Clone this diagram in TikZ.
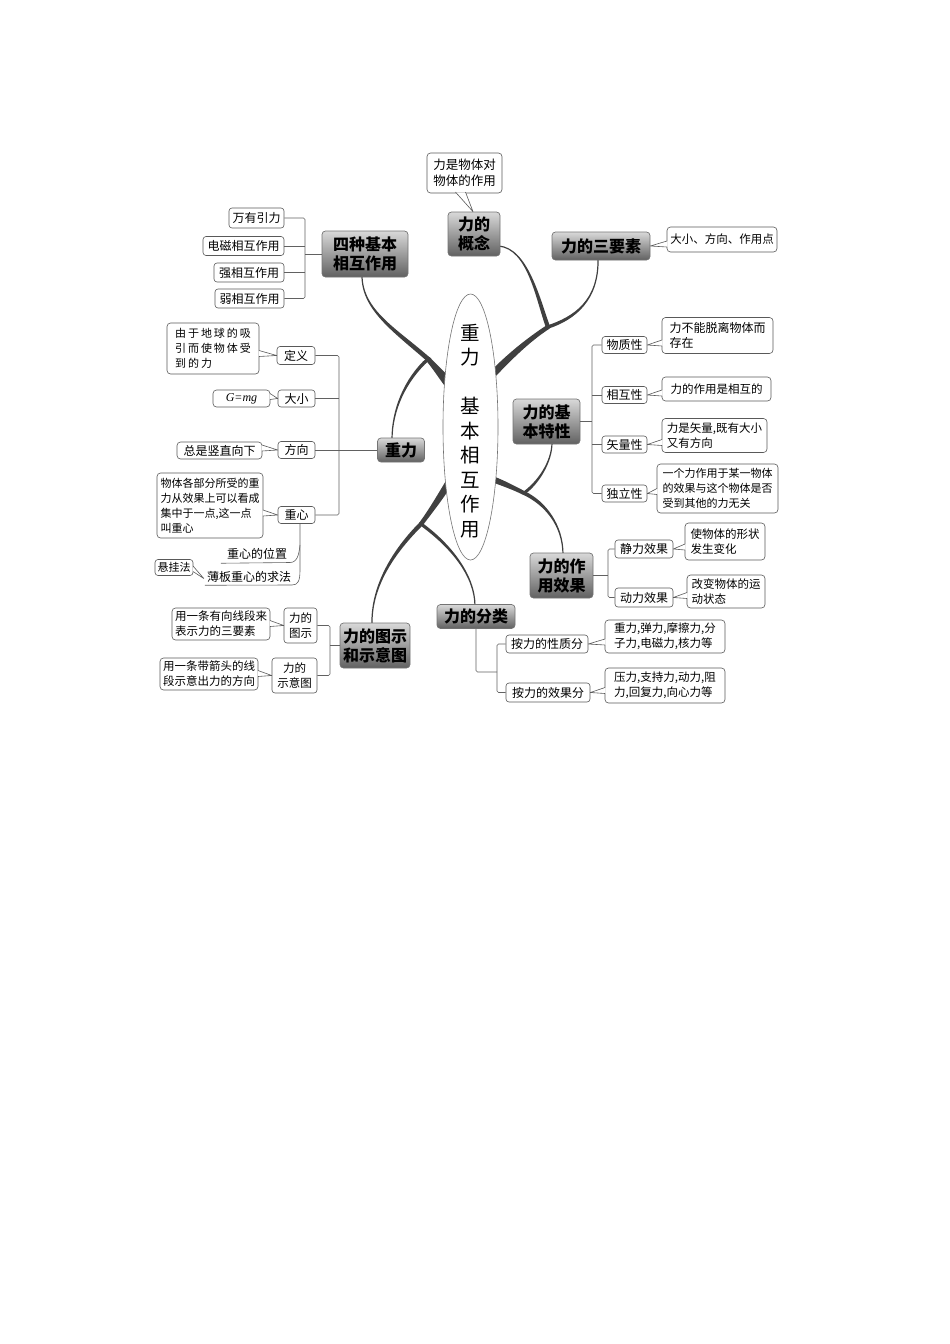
\documentclass[tikz,border=0pt]{standalone}
\usepackage{fontspec}
\setmainfont{Noto Sans CJK SC}
\newfontfamily\latinserif{Liberation Serif}
\usetikzlibrary{calc,shapes.geometric}
\pgfdeclarelayer{bg}
\pgfsetlayers{bg,main}
\tikzset{
  sz/.style n args={2}{minimum width=#1pt, minimum height=#2pt},
  topic/.style={draw=black!55, line width=0.7pt, rounded corners=3.5pt, top color=black!15, bottom color=black!62, font=\fontsize{16}{19}\selectfont\bfseries, align=center, inner sep=0pt},
  leaf/.style={draw=black!65, line width=0.6pt, rounded corners=3pt, fill=white, font=\fontsize{12}{15}\selectfont, align=center, inner sep=0pt},
  note/.style={draw=black!65, line width=0.6pt, rounded corners=3.5pt, fill=white, font=\fontsize{11.5}{15}\selectfont, align=left, inner sep=0pt},
  smallnote/.style={note, font=\fontsize{11}{15}\selectfont},
  plain/.style={font=\fontsize{12}{15}\selectfont, inner sep=0pt},
  br/.style={draw=black!62, line width=0.6pt, rounded corners=1.5pt},
  tl/.style={draw=black!65, line width=0.6pt, line join=round},
  branch/.style={fill=black!75},
  core/.style={ellipse, draw=black!55, line width=0.6pt, fill=white, minimum width=55pt, minimum height=266pt, inner sep=0pt},
  coretxt/.style={font=\fontsize{19.5}{24.5}\selectfont, align=center, inner sep=0pt},
}
% tapered branch: A, C1, C2, B, half-width at A, half-width at B
\newcommand\taper[6]{%
  \fill[branch] ($(#1)!#5!90:(#2)$) .. controls ($(#2)!#5!-90:(#1)$) and ($(#3)!#6!90:(#4)$) .. ($(#4)!#6!-90:(#3)$)
    -- ($(#4)!#6!90:(#3)$) .. controls ($(#3)!#6!-90:(#4)$) and ($(#2)!#5!90:(#1)$) .. ($(#1)!#5!-90:(#2)$) -- cycle;}
% tail from a note on the right of a leaf
\newcommand\ltail[2]{%
  \fill[white] ($(#1.west |- #2.east)+(0.8,-5)$) -- (#2.east) -- ($(#1.west |- #2.east)+(0.8,1)$) -- cycle;
  \draw[tl] ($(#1.west |- #2.east)+(0.3,-5)$) -- (#2.east) -- ($(#1.west |- #2.east)+(0.3,1)$);}
% tail from a note on the left of a leaf
\newcommand\rtail[2]{%
  \fill[white] ($(#1.east |- #2.west)+(-0.8,-5)$) -- (#2.west) -- ($(#1.east |- #2.west)+(-0.8,1)$) -- cycle;
  \draw[tl] ($(#1.east |- #2.west)+(-0.3,-5)$) -- (#2.west) -- ($(#1.east |- #2.west)+(-0.3,1)$);}
\begin{document}
\begin{tikzpicture}[x=1pt,y=-1pt]
\useasboundingbox (0,0) rectangle (950,1344);

% centre
\node[core] (core) at (470.5,427) {};
\node[coretxt] (ctext) at (470.5,431) {重\\力\\[24.5pt]基\\本\\相\\互\\作\\用};

% topics
\node[topic, sz={86}{46}] (t1) at (365,254) {四种基本\\相互作用};
\node[topic, sz={52}{44}] (t2) at (474,234) {力的\\概念};
\node[topic, sz={98}{28}] (t3) at (601,246) {力的三要素};
\node[topic, sz={67}{45}] (t4) at (546.5,421.5) {力的基\\本特性};
\node[topic, sz={47}{24}] (t5) at (401,450) {重力};
\node[topic, sz={63}{45}] (t6) at (561.5,575.5) {力的作\\用效果};
\node[topic, sz={78}{24}] (t7) at (476,616.5) {力的分类};
\node[topic, sz={70}{45}] (t8) at (375,645.5) {力的图示\\和示意图};

% four fundamental interactions
\node[leaf, sz={55}{20}] (a1) at (256.5,218) {万有引力};
\node[leaf, sz={81}{19}] (a2) at (243.5,246) {电磁相互作用};
\node[leaf, sz={70}{19}] (a3) at (249,272.5) {强相互作用};
\node[leaf, sz={69}{19}] (a4) at (249.5,298.5) {弱相互作用};
\coordinate (j1) at (305,254);
\draw[br] (a1.east) -| (j1) |- (a4.east);
\draw[br] (a2.east) -- (a2.east -| j1);
\draw[br] (a3.east) -- (a3.east -| j1);
\draw[br] (j1) -- (t1.west);

% concept
\node[note, sz={75}{40}, font=\fontsize{12.5}{16}\selectfont] (n2) at (464.5,173) {力是物体对\\物体的作用};
\coordinate (n2a) at ($(n2.south)+(-9,-0.8)$);
\coordinate (n2b) at ($(n2.south)+(1,-0.8)$);
\coordinate (n2t) at ($(t2.north)+(-1,0)$);
\fill[white] (n2a) -- (n2t) -- (n2b) -- cycle;
\draw[tl] ($(n2a)+(0,-0.4)$) -- (n2t) -- ($(n2b)+(0,-0.4)$);

% three elements
\node[note, sz={110}{25}] (n3) at (722,239.5) {大小、方向、作用点};
\ltail{n3}{t3}

% basic properties
\node[leaf, sz={45}{17}] (b1) at (624.5,345) {物质性};
\node[leaf, sz={45}{17}] (b2) at (624.5,395) {相互性};
\node[leaf, sz={45}{17}] (b3) at (624.5,444.5) {矢量性};
\node[leaf, sz={45}{17}] (b4) at (624.5,493.5) {独立性};
\coordinate (j4) at (592,421.5);
\draw[br] (b1.west) -| (j4) |- (b4.west);
\draw[br] (b2.west) -- (b2.west -| j4);
\draw[br] (b3.west) -- (b3.west -| j4);
\draw[br] (t4.east) -- (j4);
\node[note, sz={111}{36}, font=\fontsize{12}{15}\selectfont] (m1) at (717.5,335.5) {力不能脱离物体而\\存在};
\node[note, sz={109}{24}] (m2) at (716.5,389) {力的作用是相互的};
\node[note, sz={105}{34}] (m3) at (714.5,435.5) {力是矢量,既有大小\\又有方向};
\node[smallnote, sz={121}{49}] (m4) at (717.5,488.5) {一个力作用于某一物体\\的效果与这个物体是否\\受到其他的力无关};
\ltail{m1}{b1}
\ltail{m2}{b2}
\ltail{m3}{b3}
\ltail{m4}{b4}

% gravity
\node[leaf, sz={38}{18}] (c1) at (296,355.5) {定义};
\node[leaf, sz={37}{17}] (c2) at (296.5,398.5) {大小};
\node[leaf, sz={37}{17}] (c3) at (296.5,450) {方向};
\node[leaf, sz={37}{17}] (c4) at (296.5,515) {重心};
\coordinate (j5) at (339,450);
\draw[br] (c1.east) -| (j5) |- (c4.east);
\draw[br] (c2.east) -- (c2.east -| j5);
\draw[br] (c3.east) -- (t5.west);
\node[note, sz={92}{51}, font=\fontsize{11}{15}\selectfont\addfontfeature{LetterSpace=18}] (d1) at (213,348.5) {由于地球的吸\\引而使物体受\\到的力};
\node[note, sz={57}{17}, align=center] (d2) at (241.5,398.5) {\latinserif\itshape\fontsize{12}{14}\selectfont G=mg};
\node[note, sz={85}{17}, align=center, font=\fontsize{12}{15}\selectfont] (d3) at (219.5,450.5) {总是竖直向下};
\node[smallnote, sz={106}{65}] (d4) at (210,505.5) {物体各部分所受的重\\力从效果上可以看成\\集中于一点,这一点\\叫重心};
\rtail{d1}{c1}
\rtail{d2}{c2}
\rtail{d3}{c3}
\rtail{d4}{c4}
\node[plain] (e1) at (257,554) {重心的位置};
\node[plain] (e2) at (249,576.5) {薄板重心的求法};
\node[leaf, sz={38}{16}, font=\fontsize{11}{14}\selectfont] (e3) at (174,567.5) {悬挂法};
\coordinate (z0) at ($(c4.south)+(3.5,0)$);
\coordinate (z1) at ($(e2.south west)+(-2,3)$);
\coordinate (z2) at ($(e1.south west)+(-6,3.5)$);
\draw[br, rounded corners=0pt] (z0) -- (300,570) .. controls (300,581) and (298,585) .. (292,585) -- (z1);
\draw[br, rounded corners=0pt] (300,545) .. controls (299,555) and (297,562.5) .. (290,562.5) -- (z2);
\coordinate (e3t) at ($(e2.west)+(-3,2)$);
\fill[white] ($(e3.east)+(-0.8,-1.5)$) -- (e3t) -- ($(e3.east)+(-0.8,4)$) -- cycle;
\draw[tl] ($(e3.east)+(-0.3,-1.5)$) -- (e3t) -- ($(e3.east)+(-0.3,4)$);

% diagrams of force
\node[leaf, sz={33}{35}, font=\fontsize{11.5}{15}\selectfont] (f1) at (300.5,625.5) {力的\\图示};
\node[leaf, sz={45}{35}, font=\fontsize{11.5}{15}\selectfont] (f2) at (294.5,675.5) {力的\\示意图};
\coordinate (j8) at (330,645.5);
\draw[br] (f1.east) -| (j8) |- (f2.east);
\draw[br] (j8) -- (t8.west);
\node[note, sz={98}{32}] (g1) at (221,624) {用一条有向线段来\\表示力的三要素};
\node[note, sz={98}{32}] (g2) at (209,674) {用一条带箭头的线\\段示意出力的方向};
\rtail{g1}{f1}
\rtail{g2}{f2}

% effects of force
\node[leaf, sz={58}{18}] (h1) at (644,549) {静力效果};
\node[leaf, sz={58}{19}] (h2) at (644,597.5) {动力效果};
\coordinate (j6) at (608,575.5);
\draw[br] (h1.west) -| (j6) |- (h2.west);
\draw[br] (t6.east) -- (j6);
\node[note, sz={80}{37}] (k1) at (725,541.5) {使物体的形状\\发生变化};
\node[note, sz={78}{33}] (k2) at (726,591.5) {改变物体的运\\动状态};
\ltail{k1}{h1}
\ltail{k2}{h2}

% classification
\node[leaf, sz={82}{18}] (p1) at (547,644) {按力的性质分};
\node[leaf, sz={84}{19}] (p2) at (548,692.5) {按力的效果分};
\coordinate (j7) at (497,672);
\draw[br] (t7.south) |- (j7);
\draw[br] (p1.west) -| (j7) |- (p2.west);
\node[note, sz={120}{33}] (q1) at (665,636.5) {重力,弹力,摩擦力,分\\子力,电磁力,核力等};
\node[note, sz={120}{35}] (q2) at (665,685.5) {压力,支持力,动力,阻\\力,回复力,向心力等};
\ltail{q1}{p1}
\ltail{q2}{p2}

% branches
\begin{pgfonlayer}{bg}
\coordinate (E1) at (449,384);
\coordinate (F1) at (428,359);
\coordinate (T1e) at ($(t1.south)+(-3,-2)$);
\coordinate (T5e) at ($(t5.north)+(-9,2)$);
\taper{E1}{442,375}{435,367}{F1}{4.5pt}{2.6pt}
\taper{F1}{395,330}{362,310}{T1e}{2.3pt}{0.6pt}
\taper{F1}{405,380}{392,410}{T5e}{1.7pt}{0.6pt}
\fill[branch] (F1) circle (2.5pt);

\coordinate (E2) at (491,376);
\coordinate (F2) at (548,327);
\coordinate (T2e) at ($(t2.east)+(-2,12)$);
\coordinate (T3e) at ($(t3.south)+(-3,-2)$);
\taper{E2}{508,358}{528,340}{F2}{3.6pt}{2.2pt}
\taper{F2}{538,300}{528,248}{T2e}{2.1pt}{0.6pt}
\taper{F2}{575,318}{599,300}{T3e}{1.7pt}{0.6pt}
\fill[branch] (F2) circle (2.2pt);

\coordinate (E3) at (492,479);
\coordinate (F3) at (524,493);
\coordinate (T4e) at ($(t4.south)+(5.5,-2)$);
\coordinate (T6e) at ($(t6.north)+(1.5,2)$);
\taper{E3}{503,483}{514,488}{F3}{3pt}{2pt}
\taper{F3}{545,503}{563,525}{T6e}{1.9pt}{0.6pt}
\taper{F3}{538,483}{552,462}{T4e}{1.5pt}{0.6pt}
\fill[branch] (F3) circle (2pt);

\coordinate (E4) at (450,481);
\coordinate (F4) at (421,524);
\coordinate (T8e) at ($(t8.north)+(-3,2)$);
\coordinate (T7e) at ($(t7.north)+(-1,2)$);
\taper{E4}{441,496}{430,512}{F4}{3.6pt}{2.2pt}
\taper{F4}{395,550}{371,585}{T8e}{2.1pt}{0.6pt}
\taper{F4}{450,545}{475,575}{T7e}{1.6pt}{0.6pt}
\fill[branch] (F4) circle (2.2pt);
\end{pgfonlayer}
\end{tikzpicture}
\end{document}
